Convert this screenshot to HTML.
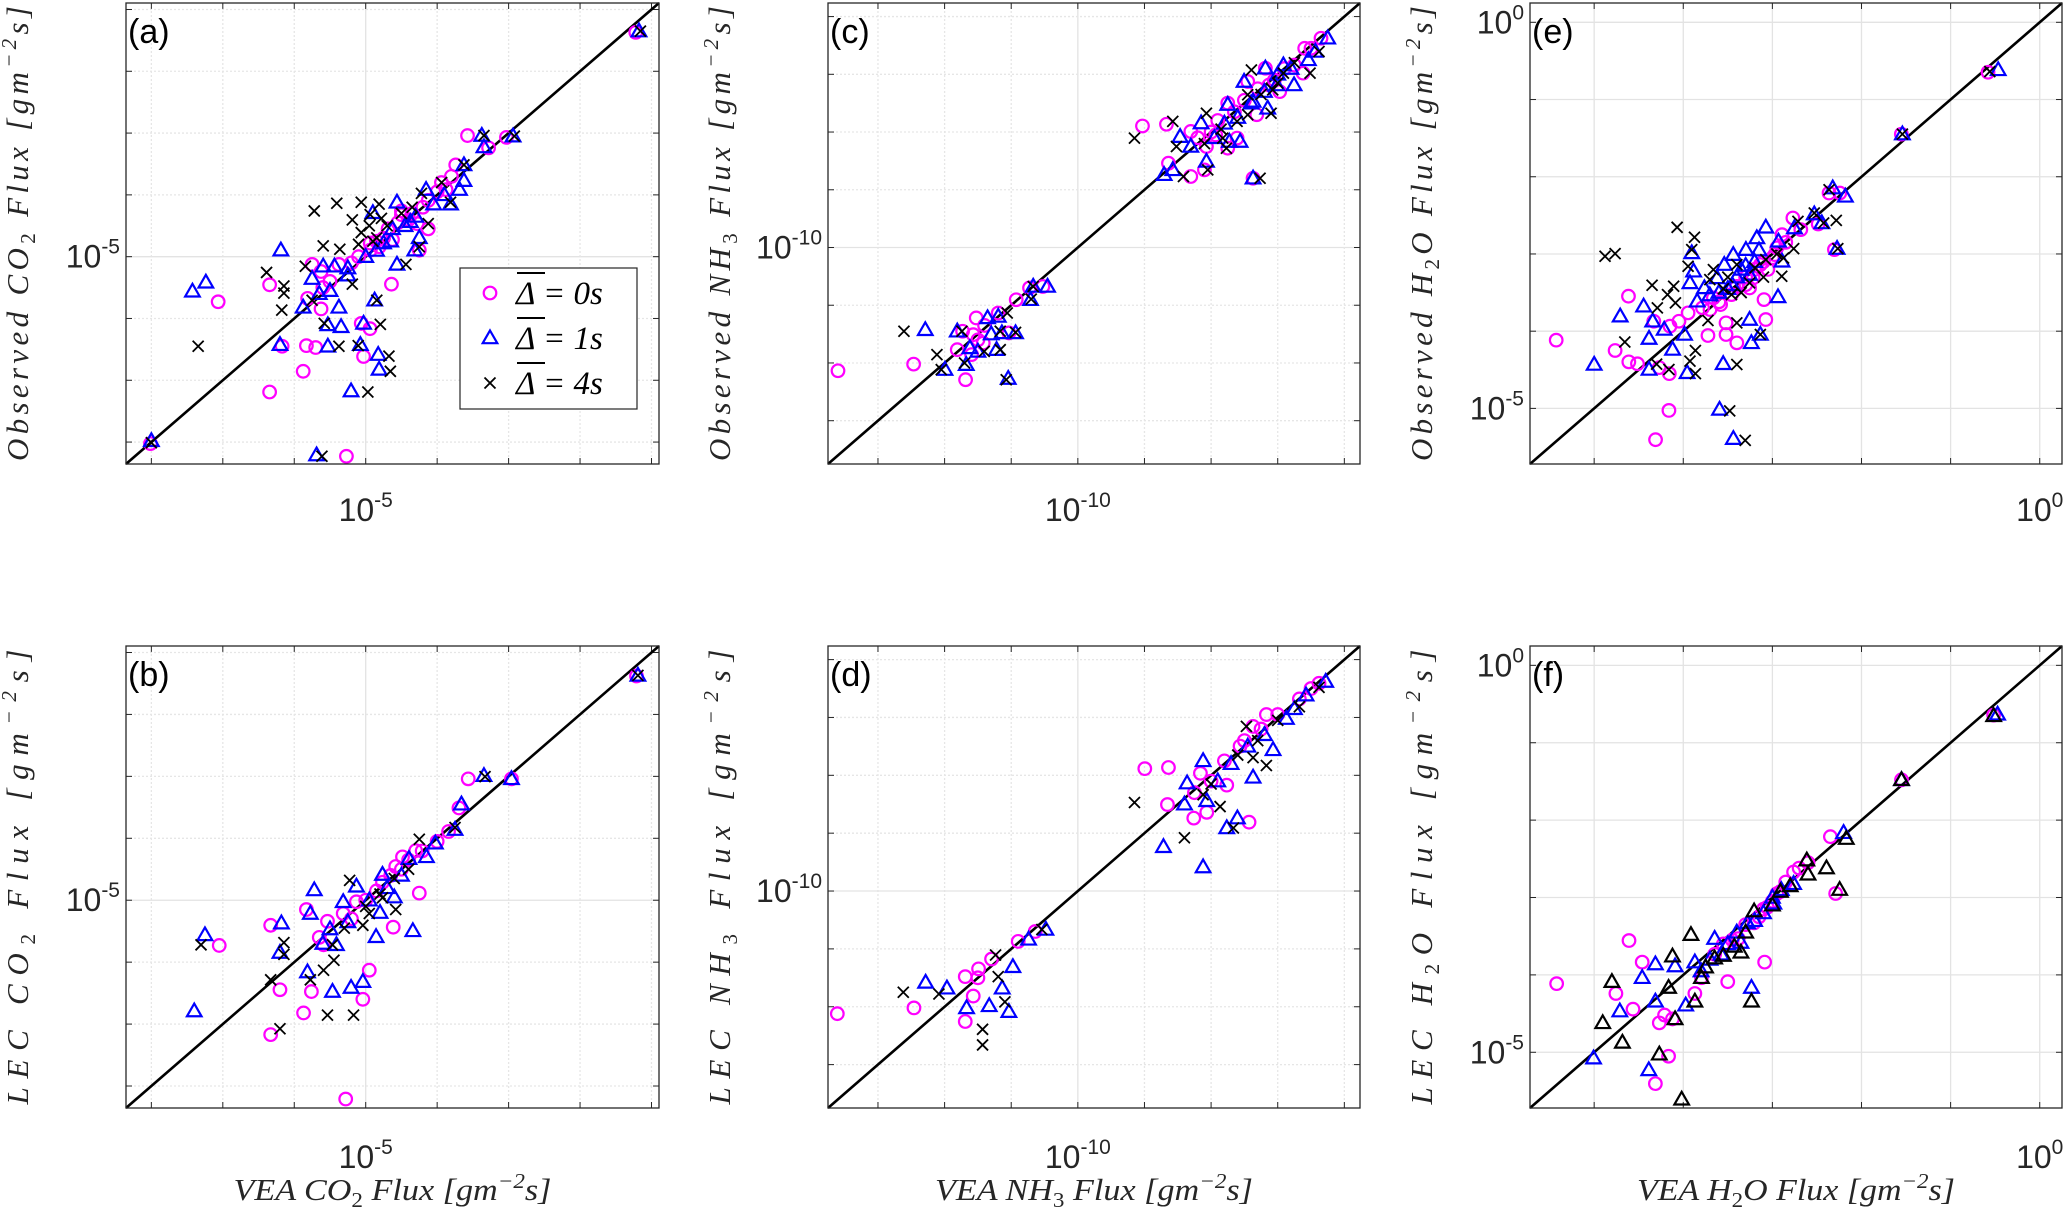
<!DOCTYPE html>
<html><head><meta charset="utf-8"><style>
html,body{margin:0;padding:0;background:#fff;}
svg{display:block;}
</style></head><body>
<svg id="fig" xmlns="http://www.w3.org/2000/svg" width="2067" height="1214" viewBox="0 0 2067 1214"></svg>
<script>
// ---------- DATA (log10 values, [x, y]) ----------
const aCirc=[[-4.244,-4.274],[-4.715,-4.608],[-4.606,-4.614],[-4.656,-4.648],[-4.748,-4.703],[-4.788,-4.76],[-4.856,-4.893],[-4.925,-4.945],[-4.85,-4.979],[-4.9,-4.864],[-4.962,-4.968],[-4.987,-4.979],[-5.15,-5.025],[-5.125,-5.048],[-5.269,-5.091],[-4.928,-5.089],[-5.413,-5.146],[-5.125,-5.169],[-5.1625,-5.135],[-4.988,-5.233],[-5.0125,-5.216],[-5.234,-5.29],[-5.166,-5.288],[-5.14,-5.294],[-5.006,-5.323],[-5.175,-5.371],[-5.269,-5.438],[-5.054,-5.646],[-5.6025,-5.605],[-4.825,-4.818],[-4.9,-4.852],[-4.9375,-4.91],[-4.775,-4.783],[-4.9875,-4.956],[-5.075,-5.025],[-4.825,-4.91],[-4.87,-4.86],[-4.88,-4.88],[-4.91,-4.89],[-4.95,-4.94],[-4.97,-4.95],[-5.02,-5.0],[-5.04,-5.02],[-5.1,-5.08],[-4.8,-4.79],[-4.76,-4.74],[-4.84,-4.84],[-5.12,-5.1]];
const aTri=[[-4.235,-4.27],[-4.675,-4.608],[-4.5875,-4.61],[-4.669,-4.645],[-4.725,-4.703],[-4.725,-4.754],[-4.7375,-4.783],[-4.7625,-4.83],[-4.831,-4.783],[-4.9125,-4.824],[-4.98,-4.858],[-4.85,-4.939],[-4.8625,-4.979],[-4.9125,-5.025],[-5.2375,-4.979],[-5.119,-5.031],[-5.0875,-5.031],[-5.05,-5.037],[-5.15,-5.071],[-5.175,-5.164],[-5.075,-5.164],[-4.975,-5.141],[-5.106,-5.221],[-5.069,-5.227],[-5.006,-5.216],[-5.24,-5.285],[-5.106,-5.29],[-5.015,-5.285],[-4.965,-5.317],[-4.9625,-5.365],[-5.041,-5.435],[-5.1375,-5.642],[-5.485,-5.112],[-5.4475,-5.083],[-5.6,-5.596],[-4.925,-4.91],[-4.875,-4.887],[-4.95,-4.956],[-4.89,-4.9],[-4.93,-4.95],[-4.97,-4.98],[-5.0,-5.0],[-5.05,-5.06],[-5.1,-5.11],[-4.81,-4.83],[-4.78,-4.8],[-4.86,-4.87],[-5.13,-5.12]];
const aCross=[[-4.231,-4.27],[-4.584,-4.61],[-4.669,-4.608],[-4.725,-4.703],[-4.7875,-4.76],[-4.844,-4.795],[-4.7625,-4.824],[-4.825,-4.893],[-5.144,-4.852],[-5.081,-4.827],[-5.0125,-4.824],[-4.9625,-4.83],[-5.0375,-4.881],[-4.9875,-4.864],[-4.956,-4.876],[-5.0125,-4.922],[-5.119,-4.965],[-5.0725,-4.976],[-4.969,-4.939],[-4.85,-4.968],[-4.8875,-5.025],[-5.2775,-5.051],[-5.169,-5.031],[-5.229,-5.095],[-5.229,-5.118],[-5.235,-5.173],[-5.0375,-5.089],[-5.116,-5.216],[-4.959,-5.219],[-5.075,-5.29],[-5.021,-5.288],[-4.969,-5.141],[-4.935,-5.322],[-4.931,-5.371],[-4.994,-5.438],[-5.1225,-5.646],[-5.469,-5.29],[-5.6,-5.602],[-5.15,-5.141],[-4.99,-4.9],[-4.98,-4.95],[-4.94,-4.9],[-4.9,-4.86],[-5.02,-4.96],[-4.87,-4.84]];
const bCirc=[[-4.242,-4.276],[-4.713,-4.608],[-4.592,-4.608],[-4.739,-4.702],[-4.768,-4.778],[-4.842,-4.841],[-4.897,-4.86],[-4.916,-4.891],[-4.953,-4.942],[-4.85,-4.977],[-5.026,-5.005],[-5.063,-5.043],[-5.107,-5.068],[-5.166,-5.03],[-5.266,-5.081],[-5.41,-5.146],[-5.24,-5.289],[-5.152,-5.295],[-4.99,-5.226],[-5.008,-5.32],[-4.923,-5.087],[-5.174,-5.364],[-5.266,-5.434],[-5.056,-5.642],[-5.118,-5.144],[-4.88,-4.87],[-4.9,-4.9],[-4.93,-4.92],[-4.97,-4.97],[-5.0,-5.0],[-4.8,-4.81],[-5.04,-5.06],[-5.13,-5.12],[-4.86,-4.84]];
const bTri=[[-4.238,-4.274],[-4.669,-4.598],[-4.592,-4.608],[-4.732,-4.69],[-4.75,-4.772],[-4.805,-4.816],[-4.879,-4.866],[-4.953,-4.917],[-4.868,-5.099],[-5.144,-4.967],[-5.063,-5.005],[-5.1,-5.093],[-5.155,-5.043],[-5.24,-5.169],[-5.236,-5.074],[-5.163,-5.232],[-5.093,-5.295],[-5.008,-5.263],[-5.041,-5.282],[-5.45,-5.112],[-5.48,-5.358],[-5.082,-5.144],[-4.971,-5.118],[-5.026,-4.955],[-4.9,-4.92],[-4.94,-4.96],[-4.99,-5.0],[-5.05,-5.07],[-4.83,-4.86],[-4.92,-4.99],[-5.12,-5.14],[-4.96,-5.04]];
const bCross=[[-4.238,-4.274],[-4.666,-4.601],[-4.75,-4.765],[-4.85,-4.803],[-5.045,-4.936],[-4.953,-4.992],[-4.99,-5.043],[-5.093,-5.144],[-5.229,-5.137],[-5.229,-5.175],[-5.118,-5.226],[-5.089,-5.194],[-5.155,-5.257],[-5.266,-5.257],[-5.461,-5.144],[-5.107,-5.371],[-5.034,-5.371],[-5.24,-5.415],[-4.916,-5.03],[-5.008,-5.081],[-4.96,-4.98],[-4.92,-4.93],[-5.0,-5.02],[-4.88,-4.9],[-5.06,-5.09]];
const cCirc=[[-10.72,-10.427],[-10.493,-10.404],[-10.337,-10.458],[-10.362,-10.354],[-10.346,-10.29],[-10.305,-10.244],[-10.314,-10.302],[-10.284,-10.331],[-10.319,-10.371],[-10.239,-10.227],[-10.185,-10.181],[-10.145,-10.14],[-10.105,-10.135],[-10.207,-10.296],[-9.806,-9.579],[-9.734,-9.573],[-9.728,-9.708],[-9.661,-9.754],[-9.62,-9.731],[-9.614,-9.65],[-9.55,-9.5],[-9.55,-9.656],[-9.661,-9.598],[-9.586,-9.61],[-9.49,-9.425],[-9.437,-9.379],[-9.463,-9.54],[-9.394,-9.46],[-9.35,-9.368],[-9.319,-9.31],[-9.27,-9.275],[-9.324,-9.396],[-9.474,-9.76],[-9.522,-9.621],[-9.426,-9.437],[-9.58,-9.56],[-9.53,-9.53],[-9.5,-9.49],[-9.46,-9.45],[-9.41,-9.42],[-9.38,-9.38],[-9.3,-9.31],[-9.6,-9.6],[-9.64,-9.62],[-10.28,-10.27],[-10.3,-10.32]];
const cTri=[[-10.458,-10.285],[-10.362,-10.29],[-10.399,-10.423],[-10.335,-10.406],[-10.324,-10.348],[-10.271,-10.244],[-10.239,-10.239],[-10.228,-10.296],[-10.244,-10.354],[-10.187,-10.296],[-10.142,-10.181],[-10.134,-10.135],[-10.091,-10.135],[-10.209,-10.454],[-9.741,-9.748],[-9.715,-9.731],[-9.614,-9.702],[-9.693,-9.616],[-9.63,-9.569],[-9.545,-9.633],[-9.513,-9.633],[-9.55,-9.505],[-9.501,-9.425],[-9.437,-9.379],[-9.403,-9.437],[-9.43,-9.518],[-9.383,-9.368],[-9.308,-9.35],[-9.287,-9.321],[-9.25,-9.275],[-9.474,-9.76],[-9.661,-9.65],[-9.474,-9.494],[-9.351,-9.437],[-9.56,-9.57],[-9.52,-9.55],[-9.48,-9.5],[-9.44,-9.46],[-9.4,-9.4],[-9.36,-9.38],[-9.59,-9.62],[-10.26,-10.3],[-10.3,-10.36]];
const cCross=[[-10.522,-10.29],[-10.423,-10.371],[-10.41,-10.423],[-10.348,-10.29],[-10.34,-10.4],[-10.281,-10.36],[-10.233,-10.29],[-10.212,-10.227],[-10.233,-10.354],[-10.187,-10.294],[-10.14,-10.179],[-10.134,-10.135],[-10.215,-10.458],[-9.83,-9.621],[-9.715,-9.563],[-9.704,-9.65],[-9.683,-9.754],[-9.614,-9.535],[-9.61,-9.731],[-9.565,-9.621],[-9.554,-9.656],[-9.479,-9.385],[-9.49,-9.471],[-9.453,-9.76],[-9.42,-9.535],[-9.415,-9.454],[-9.383,-9.396],[-9.303,-9.396],[-9.276,-9.321],[-9.522,-9.563],[-9.49,-9.54],[-9.57,-9.59],[-9.45,-9.47],[-9.4,-9.43],[-9.35,-9.36],[-9.62,-9.64]];
const dCirc=[[-10.722,-10.424],[-10.492,-10.404],[-10.338,-10.451],[-10.314,-10.363],[-10.298,-10.269],[-10.338,-10.296],[-10.259,-10.235],[-10.179,-10.174],[-10.128,-10.14],[-9.799,-9.577],[-9.728,-9.573],[-9.652,-9.748],[-9.613,-9.728],[-9.486,-9.762],[-9.731,-9.701],[-9.553,-9.634],[-9.434,-9.39],[-9.335,-9.336],[-9.276,-9.282],[-9.513,-9.499],[-9.632,-9.593],[-9.474,-9.431],[-9.56,-9.55],[-9.5,-9.48],[-9.45,-9.44],[-9.4,-9.39],[-9.3,-9.3],[-9.6,-9.62],[-9.65,-9.66],[-10.3,-10.3]];
const dTri=[[-10.457,-10.316],[-10.393,-10.336],[-10.334,-10.404],[-10.266,-10.397],[-10.207,-10.417],[-10.227,-10.336],[-10.195,-10.262],[-10.148,-10.167],[-10.096,-10.133],[-9.743,-9.847],[-9.624,-9.917],[-9.553,-9.782],[-9.521,-9.748],[-9.474,-9.607],[-9.624,-9.55],[-9.672,-9.627],[-9.414,-9.512],[-9.374,-9.404],[-9.256,-9.276],[-9.315,-9.323],[-9.613,-9.688],[-9.54,-9.56],[-9.49,-9.5],[-9.44,-9.46],[-9.35,-9.37],[-9.58,-9.62],[-9.68,-9.7]];
const dCross=[[-10.524,-10.35],[-10.417,-10.356],[-10.286,-10.478],[-10.286,-10.532],[-10.219,-10.383],[-10.239,-10.296],[-10.247,-10.221],[-10.108,-10.133],[-9.83,-9.694],[-9.68,-9.816],[-9.573,-9.708],[-9.533,-9.782],[-9.624,-9.667],[-9.434,-9.566],[-9.474,-9.539],[-9.494,-9.431],[-9.335,-9.363],[-9.276,-9.296],[-9.52,-9.53],[-9.46,-9.48],[-9.4,-9.41],[-9.6,-9.63]];
const eCirc=[[-0.58,-0.647],[-1.553,-1.448],[-2.364,-2.211],[-2.243,-2.211],[-2.486,-2.612],[-2.304,-2.944],[-2.681,-2.685],[-2.77,-2.534],[-2.892,-2.75],[-2.972,-3.009],[-3.135,-3.138],[-3.216,-3.31],[-3.094,-3.591],[-3.074,-3.849],[-3.256,-3.44],[-3.459,-3.526],[-3.581,-3.655],[-3.784,-3.698],[-3.946,-3.763],[-4.048,-3.871],[-4.149,-3.935],[-4.331,-3.871],[-4.615,-3.547],[-5.426,-4.116],[-4.765,-4.25],[-4.611,-4.397],[-4.514,-4.422],[-4.27,-4.472],[-4.157,-4.55],[-3.723,-4.056],[-3.52,-4.043],[-3.399,-4.151],[-3.52,-3.892],[-4.161,-5.026],[-4.311,-5.405],[-3.297,-3.397],[-3.662,-3.569],[-2.95,-2.92],[-3.0,-3.05],[-3.1,-3.1],[-3.2,-3.2],[-3.3,-3.3],[-3.4,-3.42],[-3.6,-3.62],[-3.7,-3.72],[-2.85,-2.85],[-3.05,-3.2]];
const eTri=[[-0.466,-0.616],[-1.541,-1.448],[-2.323,-2.147],[-2.181,-2.254],[-2.445,-2.599],[-2.274,-2.931],[-2.53,-2.483],[-2.753,-2.664],[-3.074,-2.655],[-3.175,-2.793],[-2.932,-2.836],[-3.297,-2.944],[-3.439,-3.009],[-2.892,-3.095],[-3.54,-3.138],[-3.905,-2.987],[-3.884,-3.224],[-3.925,-3.375],[-3.763,-3.44],[-3.844,-3.612],[-3.621,-3.31],[-3.256,-3.267],[-2.937,-3.556],[-3.256,-3.849],[-3.135,-4.043],[-3.236,-4.151],[-4.343,-3.871],[-4.445,-3.677],[-4.708,-3.806],[-4.384,-4.095],[-4.214,-3.978],[-3.986,-4.043],[-4.12,-4.237],[-5.0,-4.431],[-4.384,-4.496],[-3.957,-4.539],[-3.552,-4.422],[-3.593,-5.013],[-3.438,-5.392],[-3.702,-3.532],[-3.35,-3.2],[-3.4,-3.3],[-3.45,-3.4],[-3.3,-3.15],[-3.5,-3.45],[-3.2,-3.1],[-3.15,-2.95],[-3.6,-3.5]];
const eCross=[[-0.56,-0.638],[-1.541,-1.448],[-2.364,-2.168],[-2.283,-2.565],[-2.425,-2.599],[-2.266,-2.931],[-2.53,-2.47],[-2.713,-2.578],[-2.761,-2.931],[-2.875,-3.052],[-2.895,-3.289],[-3.074,-3.073],[-3.196,-3.181],[-3.399,-3.138],[-3.256,-3.375],[-3.459,-3.526],[-3.662,-3.203],[-3.702,-3.332],[-4.069,-2.655],[-3.874,-2.784],[-3.905,-2.944],[-3.946,-3.159],[-4.108,-3.418],[-4.088,-3.634],[-4.177,-3.526],[-4.291,-3.698],[-4.35,-3.405],[-4.878,-3.03],[-4.765,-2.996],[-4.656,-4.14],[-4.299,-4.427],[-4.161,-4.496],[-3.864,-4.25],[-3.925,-4.388],[-3.864,-4.55],[-3.723,-3.862],[-3.399,-3.892],[-3.135,-4.043],[-3.399,-4.431],[-3.479,-5.032],[-3.305,-5.414],[-3.55,-3.45],[-3.5,-3.3],[-3.35,-3.5],[-3.1,-3.3],[-2.95,-3.0]];
const fCirc=[[-0.517,-0.643],[-1.551,-1.479],[-2.349,-2.214],[-2.29,-2.948],[-2.762,-2.67],[-2.91,-2.923],[-3.058,-3.126],[-3.205,-3.328],[-3.383,-3.531],[-3.087,-3.835],[-3.648,-3.734],[-3.796,-4.037],[-3.501,-4.088],[-3.87,-4.24],[-4.21,-4.519],[-4.269,-4.62],[-4.564,-4.443],[-4.756,-4.24],[-4.609,-3.556],[-5.421,-4.113],[-4.165,-5.051],[-4.313,-5.405],[-4.121,-4.569],[-4.461,-3.835],[-2.85,-2.8],[-2.95,-2.95],[-3.0,-3.05],[-3.1,-3.15],[-3.15,-3.25],[-3.3,-3.35],[-3.45,-3.55],[-3.55,-3.6],[-2.7,-2.62],[-2.6,-2.55]];
const fTri=[[-0.473,-0.633],[-1.551,-1.479],[-2.201,-2.163],[-2.762,-2.822],[-2.984,-3.075],[-3.279,-3.328],[-3.353,-3.582],[-3.575,-3.734],[-3.87,-3.835],[-4.092,-3.886],[-4.313,-3.86],[-4.461,-4.037],[-4.313,-4.341],[-3.973,-4.392],[-4.712,-4.468],[-4.387,-5.228],[-5.007,-5.076],[-3.235,-4.164],[-3.648,-3.531],[-3.0,-3.0],[-3.1,-3.2],[-3.2,-3.3],[-3.4,-3.45],[-3.5,-3.6],[-3.7,-3.8],[-3.8,-3.95],[-2.9,-2.9]];
const fTriK=[[-0.517,-0.653],[-1.551,-1.479],[-2.171,-2.239],[-2.245,-2.898],[-2.393,-2.619],[-2.614,-2.518],[-2.91,-2.923],[-3.205,-3.176],[-3.427,-3.632],[-3.648,-3.784],[-3.914,-3.48],[-4.121,-3.759],[-3.796,-4.037],[-4.165,-4.164],[-3.87,-4.341],[-3.235,-4.341],[-4.801,-4.088],[-4.904,-4.62],[-4.683,-4.873],[-4.269,-5.025],[-4.018,-5.608],[-4.092,-4.569],[-3.353,-3.708],[-2.8,-2.85],[-3.0,-3.1],[-3.3,-3.45],[-3.55,-3.75],[-3.75,-3.9],[-2.6,-2.7]];
// axis domains (log10) and tick exponents
const domCO2=[-5.671,-4.179];
const domNH3=[-10.75,-9.153];
const domH2O=[-5.72,0.25];
const ticksCO2=[-5];
const ticksNH3=[-10];
const ticksH2OY=[-5,0];
const ticksH2OX=[0];

const NS='http://www.w3.org/2000/svg';
const svg=document.getElementById('fig');
function mk(tag,attrs,parent){const e=document.createElementNS(NS,tag);for(const k in attrs)e.setAttribute(k,attrs[k]);(parent||svg).appendChild(e);return e;}

const cols=[[126,659],[828,1360],[1530,2062]];
const rows=[[3,464],[646,1108]];

function panel(id,col,row,dom,gridStep,majors,xt,yt,series,letter,ylab,xlab){
  const [x0,x1]=cols[col],[y0,y1]=rows[row];
  const g=mk('g',{});
  
  
  const sx=v=>x0+(v-dom[0])/(dom[1]-dom[0])*(x1-x0);
  const sy=v=>y1-(v-dom[0])/(dom[1]-dom[0])*(y1-y0);
  const start=Math.ceil((dom[0]-majors)/gridStep-1e-6);
  for(let k=start;majors+k*gridStep<=dom[1];k++){
    const v=majors+k*gridStep; const maj=Math.abs(k)<1e-9||(gridStep===1);
    const gx=mk('line',{x1:sx(v),x2:sx(v),y1:y0,y2:y1,stroke:maj?'#e3e3e3':'#e6e6e6','stroke-width':1.3,'stroke-dasharray':maj?'':'2,2'},g);
    
    
    const gy=mk('line',{x1:x0,x2:x1,y1:sy(v),y2:sy(v),stroke:maj?'#e3e3e3':'#e6e6e6','stroke-width':1.3,'stroke-dasharray':maj?'':'2,2'},g);
    
    
    mk('line',{x1:sx(v),x2:sx(v),y1:y1,y2:y1-6,stroke:'#262626','stroke-width':1},g);
    mk('line',{x1:sx(v),x2:sx(v),y1:y0,y2:y0+6,stroke:'#262626','stroke-width':1},g);
    mk('line',{x1:x0,x2:x0+6,y1:sy(v),y2:sy(v),stroke:'#262626','stroke-width':1},g);
    mk('line',{x1:x1,x2:x1-6,y1:sy(v),y2:sy(v),stroke:'#262626','stroke-width':1},g);
  }
  const d=mk('line',{x1:sx(dom[0]),y1:sy(dom[0]),x2:sx(dom[1]),y2:sy(dom[1]),stroke:'#000','stroke-width':2.6},g);
  
  
  series.forEach(s=>{
    s.data.forEach(p=>{
      const X=sx(p[0]),Y=sy(p[1]);let m;
      if(s.type==='o'){m=mk('circle',{cx:X,cy:Y,r:6.3,fill:'none',stroke:s.color,'stroke-width':2.2},g);}
      else if(s.type==='^'){m=mk('path',{d:`M${X},${Y-7.5}L${X+7.3},${Y+5.2}L${X-7.3},${Y+5.2}Z`,fill:'none',stroke:s.color,'stroke-width':2.2},g);}
      else {m=mk('path',{d:`M${X-5.5},${Y-5.5}L${X+5.5},${Y+5.5}M${X-5.5},${Y+5.5}L${X+5.5},${Y-5.5}`,stroke:s.color,'stroke-width':1.8},g);}
      
      
    });
  });
  const fr=mk('rect',{x:x0,y:y0,width:x1-x0,height:y1-y0,fill:'none',stroke:'#262626','stroke-width':1.3},g);
  
  
  const xlY=row===0?521:1168;
  xt.forEach(v=>{
    const t=mk('text',{x:sx(v),y:xlY,'font-family':'Liberation Sans, sans-serif','font-size':32,'text-anchor':'middle',fill:'#262626'},g);
    t.innerHTML='10<tspan dy="-14" font-size="21">'+v+'</tspan>';
    
    
  });
  yt.forEach(v=>{
    const t=mk('text',{x:x0-6,y:sy(v)+11,'font-family':'Liberation Sans, sans-serif','font-size':32,'text-anchor':'end',fill:'#262626'},g);
    t.innerHTML='10<tspan dy="-14" font-size="21">'+v+'</tspan>';
    
    
  });
  const L=mk('text',{x:x0+2,y:y0+40,'font-family':'Liberation Sans, sans-serif','font-size':34,fill:'#000'},g);
  L.textContent='('+letter+')';
  
  
  const cy=(y0+y1)/2, lx=x0-98;
  const yl=mk('text',{x:0,y:0,transform:`translate(${lx},${cy}) rotate(-90)`,'font-family':'Liberation Serif, serif','font-style':'italic','font-size':31,'text-anchor':'middle',fill:'#262626',textLength:455,lengthAdjust:'spacing'},g);
  yl.innerHTML=ylab;
  
  
  if(xlab){
    const xl=mk('text',{x:(x0+x1)/2,y:1200,'font-family':'Liberation Serif, serif','font-style':'italic','font-size':31,'text-anchor':'middle',fill:'#262626',textLength:318,lengthAdjust:'spacingAndGlyphs'},g);
    xl.innerHTML=xlab;
    
    
  }
}
const sub=s=>'<tspan dy="7" font-size="21" font-style="normal">'+s+'</tspan><tspan dy="-7">';
const subEnd='</tspan>';
const unit='[gm<tspan dy="-12" font-size="21">−2</tspan><tspan dy="12">s]</tspan>';
const M='#ff00ff',B='#0000ff',K='#000000';
const S=(c,t,k)=>[{data:c,type:'o',color:M,name:'delta-0s'},{data:t,type:'^',color:B,name:'delta-1s'},{data:k,type:'x',color:K,name:'delta-4s'}];

panel('a',0,0,domCO2,0.2,-5,ticksCO2,ticksCO2,S(aCirc,aTri,aCross),'a','Observed CO'+sub('2')+' Flux '+unit+subEnd,null);
panel('b',0,1,domCO2,0.2,-5,ticksCO2,ticksCO2,S(bCirc,bTri,bCross),'b','LEC CO'+sub('2')+' Flux '+unit+subEnd,'VEA CO'+sub('2')+' Flux '+unit+subEnd);
panel('c',1,0,domNH3,0.2,-10,ticksNH3,ticksNH3,S(cCirc,cTri,cCross),'c','Observed NH'+sub('3')+' Flux '+unit+subEnd,null);
panel('d',1,1,domNH3,0.2,-10,ticksNH3,ticksNH3,S(dCirc,dTri,dCross),'d','LEC NH'+sub('3')+' Flux '+unit+subEnd,'VEA NH'+sub('3')+' Flux '+unit+subEnd);
panel('e',2,0,domH2O,1,0,ticksH2OX,ticksH2OY,S(eCirc,eTri,eCross),'e','Observed H'+sub('2')+'O Flux '+unit+subEnd,null);
panel('f',2,1,domH2O,1,0,ticksH2OX,ticksH2OY,[{data:fCirc,type:'o',color:M,name:'delta-0s'},{data:fTri,type:'^',color:B,name:'delta-1s'},{data:fTriK,type:'^',color:K,name:'delta-4s'}],'f','LEC H'+sub('2')+'O Flux '+unit+subEnd,'VEA H'+sub('2')+'O Flux '+unit+subEnd);

const lg=mk('g',{});


mk('rect',{x:460,y:268,width:177,height:141,fill:'#fff',stroke:'#262626','stroke-width':1.2},lg);
const labs=['0s','1s','4s'],types=['o','^','x'],colors=[M,B,K];
labs.forEach((l,i)=>{
  const y=293+i*45,x=490;
  let m;
  if(types[i]==='o')m=mk('circle',{cx:x,cy:y,r:6.3,fill:'none',stroke:colors[i],'stroke-width':2.2},lg);
  else if(types[i]==='^')m=mk('path',{d:`M${x},${y-7.5}L${x+7.3},${y+5.2}L${x-7.3},${y+5.2}Z`,fill:'none',stroke:colors[i],'stroke-width':2.2},lg);
  else m=mk('path',{d:`M${x-5.5},${y-5.5}L${x+5.5},${y+5.5}M${x-5.5},${y+5.5}L${x+5.5},${y-5.5}`,stroke:colors[i],'stroke-width':1.8},lg);
  
  
  mk('line',{x1:517,x2:545,y1:y-20,y2:y-20,stroke:'#000','stroke-width':2},lg);
  const t=mk('text',{x:516,y:y+11,'font-family':'Liberation Serif, serif','font-style':'italic','font-size':33,fill:'#000'},lg);
  t.textContent='Δ = '+l;
  
  
});
</script>
</body></html>
